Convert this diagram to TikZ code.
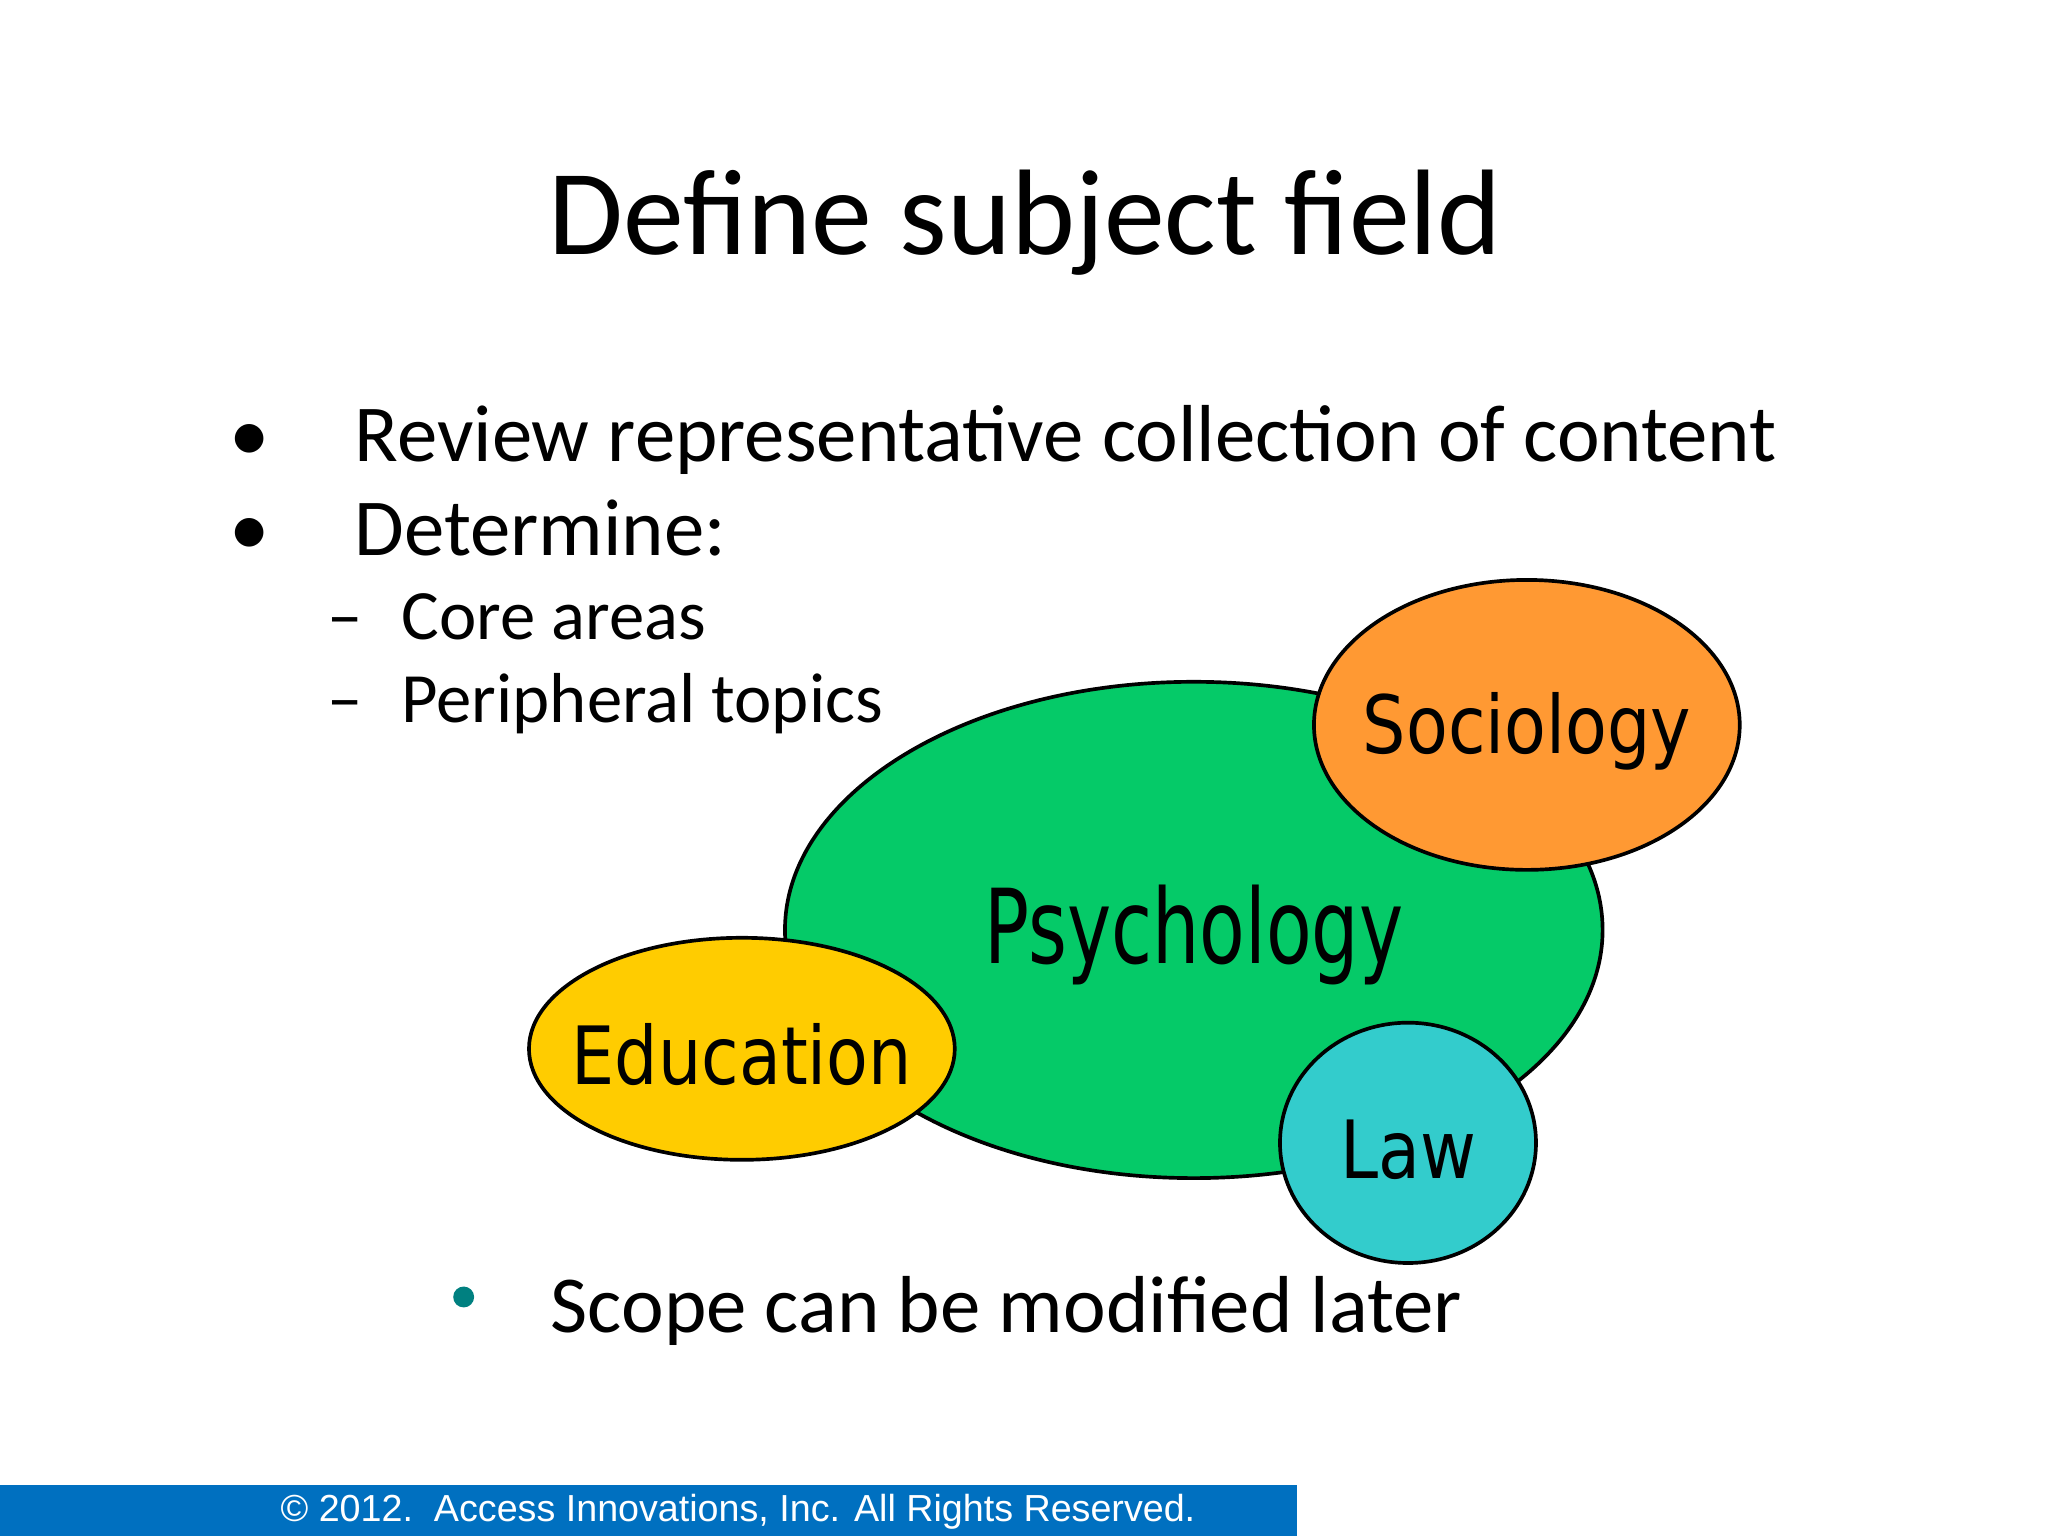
\documentclass[tikz,border=0pt]{standalone}
\usepackage{fontspec}
\setmainfont{Carlito}
\newfontfamily\lbl{DejaVu Sans}
\newfontfamily\arialf{Liberation Sans}
\definecolor{psy}{RGB}{5,202,104}
\definecolor{soc}{RGB}{255,153,51}
\definecolor{edu}{RGB}{255,204,0}
\definecolor{law}{RGB}{51,204,204}
\definecolor{barblue}{RGB}{0,112,192}
\definecolor{teal}{RGB}{0,128,128}
\begin{document}
\begin{tikzpicture}[x=0.01cm,y=-0.01cm,
  blob/.style={draw=black,line width=0.8pt},
  lab/.style={font=\lbl\fontsize{17.5}{20}\selectfont,xscale=0.85,inner sep=0},
  bul/.style={anchor=base west,font=\fontsize{17.6}{20}\selectfont,inner sep=0},
  sub/.style={anchor=base west,font=\fontsize{15.4}{18}\selectfont,inner sep=0}]
\useasboundingbox[fill=white] (0,0) rectangle (1568,1176);
\node[anchor=base,font=\fontsize{26.5}{30}\selectfont,inner sep=0] (title) at (785,195) {Define subject field};
\node[bul] (b1) at (175,353) {\textbullet\hspace{1.05em}Review representative collection of content};
\node[bul] (b2) at (175,425) {\textbullet\hspace{1.05em}Determine:};
\node[sub] (s1) at (250,490) {--\hspace{0.55em}Core areas};
\node[sub] (s2) at (250,553) {--\hspace{0.55em}Peripheral topics};
\fill[blob,fill=psy] (914,712) ellipse [x radius=313,y radius=190];
\fill[blob,fill=soc] (1169,555) ellipse [x radius=163,y radius=111];
\fill[blob,fill=edu] (568,803) ellipse [x radius=163,y radius=85];
\fill[blob,fill=law] (1078,875) ellipse [x radius=98,y radius=92];
\node[lab,font=\lbl\fontsize{22.5}{26}\selectfont,xscale=0.85] (psy) at (914,716) {Psychology};
\node[lab] (soc) at (1169,560) {Sociology};
\node[lab] (edu) at (568,807) {Education};
\node[lab] (law) at (1078,880) {Law};
\fill[teal] (355,993) circle (8);
\node[bul] (b3) at (421,1020) {Scope can be modified later};
\fill[barblue] (0,1137) rectangle (993,1176);
\node[anchor=base,font=\arialf\fontsize{8.2}{10}\selectfont,text=white,inner sep=0] (foot) at (565,1165) {\textcopyright{} 2012.\ \ Access Innovations, Inc. All Rights Reserved.};
\end{tikzpicture}
\end{document}
